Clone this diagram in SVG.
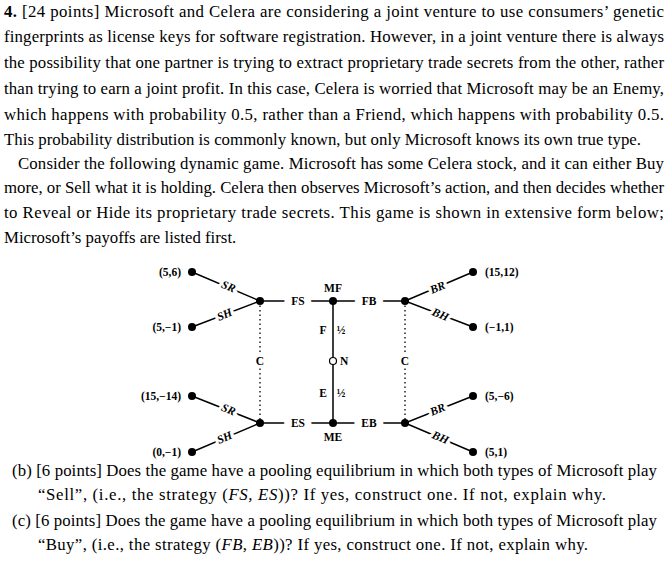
<svg xmlns="http://www.w3.org/2000/svg" width="669" height="573" viewBox="0 0 669 573">
<style>
.t{font-family:"Liberation Serif",serif;font-size:16.8px;fill:#000}
.l{font-family:"Liberation Serif",serif;font-size:11.5px;font-weight:bold;fill:#000}
.h{stroke:#fff;stroke-width:6px;paint-order:stroke}
.hw{stroke:#fff;stroke-width:14px;paint-order:stroke}
.e{stroke:#000;stroke-width:1.5;fill:none}
.d{stroke:#000;stroke-width:1.3;stroke-dasharray:1.5 3;fill:none}
.n{fill:#000}
</style>
<rect width="669" height="573" fill="#fff"/>
<g id="text">
<text class="t" x="4" y="17" textLength="660" lengthAdjust="spacing"><tspan font-weight="bold">4.</tspan> [24 points] Microsoft and Celera are considering a joint venture to use consumers’ genetic</text>
<text class="t" x="4" y="42" textLength="660" lengthAdjust="spacing">fingerprints as license keys for software registration. However, in a joint venture there is always</text>
<text class="t" x="4" y="68" textLength="660" lengthAdjust="spacing">the possibility that one partner is trying to extract proprietary trade secrets from the other, rather</text>
<text class="t" x="4" y="94" textLength="660" lengthAdjust="spacing">than trying to earn a joint profit. In this case, Celera is worried that Microsoft may be an Enemy,</text>
<text class="t" x="4" y="120" textLength="660" lengthAdjust="spacing">which happens with probability 0.5, rather than a Friend, which happens with probability 0.5.</text>
<text class="t" x="4" y="145" textLength="637" lengthAdjust="spacing">This probability distribution is commonly known, but only Microsoft knows its own true type.</text>
<text class="t" x="18" y="169" textLength="646" lengthAdjust="spacing">Consider the following dynamic game. Microsoft has some Celera stock, and it can either Buy</text>
<text class="t" x="4" y="193" textLength="660" lengthAdjust="spacing">more, or Sell what it is holding. Celera then observes Microsoft’s action, and then decides whether</text>
<text class="t" x="4" y="218" textLength="660" lengthAdjust="spacing">to Reveal or Hide its proprietary trade secrets. This game is shown in extensive form below;</text>
<text class="t" x="4" y="243">Microsoft’s payoffs are listed first.</text>
<text class="t" x="12" y="476" textLength="645" lengthAdjust="spacing">(b) [6 points] Does the game have a pooling equilibrium in which both types of Microsoft play</text>
<text class="t" x="38" y="500" textLength="568" lengthAdjust="spacing">“Sell”, (i.e., the strategy (<tspan font-style="italic">FS, ES</tspan>))? If yes, construct one. If not, explain why.</text>
<text class="t" x="12" y="526" textLength="645" lengthAdjust="spacing">(c) [6 points] Does the game have a pooling equilibrium in which both types of Microsoft play</text>
<text class="t" x="38" y="550" textLength="550" lengthAdjust="spacing">“Buy”, (i.e., the strategy (<tspan font-style="italic">FB, EB</tspan>))? If yes, construct one. If not, explain why.</text>
</g>
<g id="connectors">
<path class="e" d="M192 272L260 301L192 327M192 396L260 423L192 452M473 272L405 301L473 327M473 396L405 423L473 452M260 301H405M260 423H405M333 301V423"/>
<path class="d" d="M260 301V423M405 301V423"/>
</g>
<g id="labels">
<text class="l hw" x="298" y="305" text-anchor="middle">FS</text>
<text class="l hw" x="369" y="305" text-anchor="middle">FB</text>
<text class="l hw" x="298" y="427" text-anchor="middle">ES</text>
<text class="l hw" x="369" y="427" text-anchor="middle">EB</text>
<text class="l" x="333" y="292" text-anchor="middle">MF</text>
<text class="l" x="333" y="441" text-anchor="middle">ME</text>
<text class="l" x="323" y="334" text-anchor="middle">F</text>
<text class="l" x="341" y="334" text-anchor="middle">½</text>
<text class="l" x="323" y="397" text-anchor="middle">E</text>
<text class="l" x="341" y="397" text-anchor="middle">½</text>
<text class="l" x="340" y="365">N</text>
<text class="l h" x="260" y="365" text-anchor="middle">C</text>
<text class="l h" x="405" y="365" text-anchor="middle">C</text>
<text class="l h" font-style="italic" text-anchor="middle" transform="translate(227,290) rotate(23)">SR</text>
<text class="l h" font-style="italic" text-anchor="middle" transform="translate(226,318) rotate(-23)">SH</text>
<text class="l h" font-style="italic" text-anchor="middle" transform="translate(227,413) rotate(23)">SR</text>
<text class="l h" font-style="italic" text-anchor="middle" transform="translate(226,441) rotate(-23)">SH</text>
<text class="l h" font-style="italic" text-anchor="middle" transform="translate(439,291) rotate(-23)">BR</text>
<text class="l h" font-style="italic" text-anchor="middle" transform="translate(439,318) rotate(23)">BH</text>
<text class="l h" font-style="italic" text-anchor="middle" transform="translate(439,413) rotate(-23)">BR</text>
<text class="l h" font-style="italic" text-anchor="middle" transform="translate(439,441) rotate(23)">BH</text>
<text class="l" x="181" y="276" text-anchor="end">(5,6)</text>
<text class="l" x="181" y="331" text-anchor="end">(5,−1)</text>
<text class="l" x="181" y="400" text-anchor="end">(15,−14)</text>
<text class="l" x="181" y="456" text-anchor="end">(0,−1)</text>
<text class="l" x="485" y="276">(15,12)</text>
<text class="l" x="485" y="331">(−1,1)</text>
<text class="l" x="485" y="400">(5,−6)</text>
<text class="l" x="485" y="456">(5,1)</text>
</g>
<g id="nodes">
<circle class="n" cx="260" cy="301" r="4"/><circle class="n" cx="333" cy="301" r="4"/><circle class="n" cx="405" cy="301" r="4"/>
<circle class="n" cx="260" cy="423" r="4"/><circle class="n" cx="333" cy="423" r="4"/><circle class="n" cx="405" cy="423" r="4"/>
<circle cx="333" cy="361" r="3.5" fill="#fff" stroke="#000" stroke-width="1.2"/>
<circle class="n" cx="192" cy="272" r="4"/><circle class="n" cx="192" cy="327" r="4"/><circle class="n" cx="192" cy="396" r="4"/><circle class="n" cx="192" cy="452" r="4"/>
<circle class="n" cx="473" cy="272" r="4"/><circle class="n" cx="473" cy="327" r="4"/><circle class="n" cx="473" cy="396" r="4"/><circle class="n" cx="473" cy="452" r="4"/>
</g>
</svg>
